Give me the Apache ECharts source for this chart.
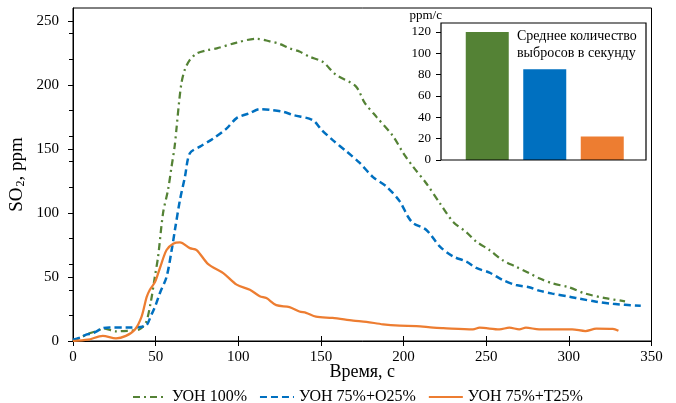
<!DOCTYPE html>
<html>
<head>
<meta charset="utf-8">
<script src="https://cdn.jsdelivr.net/npm/echarts@6/dist/echarts.min.js"></script>
<style>
  html, body { margin: 0; padding: 0; background: #fff; }
  #main { width: 676px; height: 403px; }
</style>
</head>
<body>
<div id="main"></div>
<script>
var chart = echarts.init(document.getElementById('main'));

var seriesNames = ['УОН 100%', 'УОН 75%+O25%', 'УОН 75%+T25%'];
var seriesColors = ['#548235', '#0070C0', '#ED7D31'];

// [time, ppm]
var yon100 = [
    [0, 0], [5, 3], [10, 6], [15, 8], [18, 10], [26, 7.5], [33, 8], [40, 9], [44, 14],
    [47, 30], [49.5, 50], [51.5, 66], [54.5, 100], [57.5, 118], [59.5, 135], [61.5, 152],
    [62.7, 167], [64.3, 188], [65.7, 202], [67.7, 212], [70.7, 219.5], [74.8, 224.5],
    [80.8, 227], [87, 228.5], [99, 233], [111, 236], [119, 234], [125, 232], [131, 228.5],
    [137, 226], [143, 222], [151, 218], [159, 208], [171, 199], [176.5, 186], [183.6, 175],
    [193.6, 160], [199.7, 147], [205.8, 136], [213.8, 123], [222, 107.5], [230, 93],
    [238, 85], [244, 77.6], [252, 71], [260, 63], [268, 58], [276, 53], [282, 49],
    [290, 45], [300, 42], [310, 37], [322, 33.5], [334, 31]
];
var yon75o25 = [
    [0, 1], [5, 3], [8, 5], [12, 6], [18, 10], [22, 10.5], [32, 10.5], [43.5, 11.5],
    [47.6, 21], [50, 28], [52.6, 37.5], [56.6, 50], [59.7, 71], [61.7, 87], [64.7, 110],
    [67.7, 128], [70.7, 146.6], [76.8, 151.8], [84.8, 158], [93, 166], [99, 174], [107, 178],
    [113, 181], [119, 180.5], [127, 179], [133, 176.5], [145, 172.5], [150.3, 165],
    [157, 157], [165.5, 148], [173.5, 139], [181.5, 128], [189.7, 120.5], [197.7, 109],
    [202.7, 97], [205.8, 92], [213.8, 86.7], [222, 73.7], [230, 66], [238, 62], [244, 57],
    [252, 53.4], [260, 47.6], [268, 43.7], [276, 42], [282, 39.3], [290, 37], [300.5, 34.6],
    [306.5, 33], [316.6, 30.7], [326.7, 29], [343.5, 27.5]
];
var yon75t25 = [
    [0, 0], [9, 1], [18, 4], [26, 2], [32, 4], [37.5, 9], [41.5, 19], [44.5, 34], [46.5, 40],
    [49.6, 46], [52.6, 57], [56.6, 71], [60.6, 76], [64.7, 77], [70.7, 72.5], [74.8, 71],
    [81.8, 60], [90.9, 53], [99, 44], [107, 40], [113, 35], [117, 33.5], [123, 28],
    [131, 26.5], [137, 23], [141, 22], [147, 19], [157, 18], [169.5, 16], [177.5, 15],
    [187.6, 13], [197.7, 12], [207.8, 11.7], [218, 10.4], [224, 10], [242, 9.1], [246, 10.4],
    [258, 9.1], [264, 10.4], [270, 9.1], [274, 10.4], [282, 9.1], [302, 9.1], [310, 7.8],
    [316.6, 9.6], [326.6, 9.4], [330, 8]
];

// inset: average emission per second, ppm/c
var insetValues = [120, 85, 22];

var yMajorTicks = [0, 50, 100, 150, 200, 250];
var yMinorTicks = [20, 40, 60, 80, 120, 140, 160, 180, 220, 240];

var font = 'Liberation Serif';
var lineTypes = [[7, 4, 2, 4], [7, 4], 'solid'];
var lineWidths = [2.25, 2.5, 2.25];
var lineData = [yon100, yon75o25, yon75t25];

var lineSeries = [];
for (var i = 0; i < lineData.length; i++) {
    lineSeries.push({
        name: seriesNames[i],
        type: 'line',
        xAxisIndex: 0,
        yAxisIndex: 0,
        data: lineData[i],
        smooth: 0.3,
        showSymbol: false,
        symbol: 'none',
        color: seriesColors[i],
        lineStyle: { color: seriesColors[i], width: lineWidths[i], type: lineTypes[i] },
        z: 3
    });
}

var option = {
    animation: false,
    textStyle: { fontFamily: font, color: '#000' },
    grid: [
        { left: 73, top: 8, width: 578.5, height: 333, show: true, borderColor: '#000', borderWidth: 1 },
        { left: 458.5, top: 32, width: 172.5, height: 128 }
    ],
    title: {
        text: 'Среднее количество\nвыбросов в секунду',
        left: 512, top: 23,
        textStyle: { fontFamily: font, fontSize: 14, fontWeight: 'normal', lineHeight: 17, color: '#000' }
    },
    legend: {
        left: 127, top: 384,
        itemWidth: 34, itemHeight: 14, itemGap: 12,
        itemStyle: { color: 'rgba(0,0,0,0)', borderWidth: 0, opacity: 0 },
        textStyle: { fontFamily: font, fontSize: 16, color: '#000' },
        data: seriesNames
    },
    xAxis: [
        {
            type: 'value', gridIndex: 0, min: 0, max: 350, interval: 50,
            name: 'Время, с', nameLocation: 'middle', nameGap: 22, nameMoveOverlap: false,
            nameTextStyle: { fontFamily: font, fontSize: 18, color: '#000' },
            axisLine: { lineStyle: { color: '#000', width: 1 } },
            axisTick: { show: true, inside: false, length: 5, lineStyle: { color: '#000' } },
            axisLabel: { fontFamily: font, fontSize: 15, color: '#000', margin: 9 },
            splitLine: { show: false }
        },
        {
            type: 'value', gridIndex: 0, min: 0, max: 350, interval: 50, position: 'bottom',
            axisLine: { show: false },
            axisTick: { show: true, inside: true, length: 5, lineStyle: { color: '#000' } },
            axisLabel: { show: false },
            splitLine: { show: false }
        },
        {
            type: 'category', gridIndex: 1, data: seriesNames,
            axisLine: { show: false }, axisTick: { show: false }, axisLabel: { show: false }
        }
    ],
    yAxis: [
        {
            type: 'value', gridIndex: 0, min: 0, max: 260,
            name: '{n|SO}{s|2}{n|, ppm}', nameLocation: 'middle', nameGap: 46, nameMoveOverlap: false,
            nameTextStyle: {
                rich: {
                    n: { fontFamily: font, fontSize: 19, color: '#000' },
                    s: { fontFamily: font, fontSize: 12, color: '#000', verticalAlign: 'bottom', padding: [0, 0, 0, 1] }
                }
            },
            axisLine: { show: true, lineStyle: { color: '#000', width: 1 } },
            axisTick: { show: true, inside: false, length: 5, customValues: yMajorTicks, lineStyle: { color: '#000' } },
            axisLabel: { fontFamily: font, fontSize: 15, color: '#000', margin: 14, customValues: yMajorTicks },
            splitLine: { show: false }
        },
        {
            type: 'value', gridIndex: 0, min: 0, max: 260,
            axisLine: { show: false },
            axisTick: { show: true, inside: true, length: 5, customValues: yMajorTicks, lineStyle: { color: '#000' } },
            axisLabel: { show: false },
            splitLine: { show: false }
        },
        {
            type: 'value', gridIndex: 0, min: 0, max: 260, position: 'left',
            axisLine: { show: false },
            axisTick: { show: true, inside: false, length: 4, customValues: yMinorTicks, lineStyle: { color: '#000' } },
            axisLabel: { show: false },
            splitLine: { show: false }
        },
        {
            type: 'value', gridIndex: 1, min: 0, max: 120, interval: 20, offset: 17.5,
            name: 'ppm/c', nameLocation: 'end', nameGap: 10,
            nameTextStyle: { fontFamily: font, fontSize: 13, color: '#000', align: 'right', padding: [0, -1, 0, 0] },
            axisLine: { show: false },
            axisTick: { show: true, inside: false, length: 5, lineStyle: { color: '#000' } },
            axisLabel: { fontFamily: font, fontSize: 13, color: '#000', margin: 10 },
            splitLine: { show: false }
        }
    ],
    graphic: [
        {
            type: 'rect', shape: { x: 441, y: 23, width: 205, height: 137 },
            style: { fill: 'none', stroke: '#000', lineWidth: 1.2 }, z: 10
        }
    ],
    series: lineSeries.concat([
        {
            name: 'inset',
            type: 'bar',
            xAxisIndex: 2,
            yAxisIndex: 3,
            barWidth: 43,
            data: insetValues.map(function (v, k) {
                return { value: v, itemStyle: { color: seriesColors[k] } };
            })
        }
    ])
};
chart.setOption(option);
</script>
</body>
</html>
